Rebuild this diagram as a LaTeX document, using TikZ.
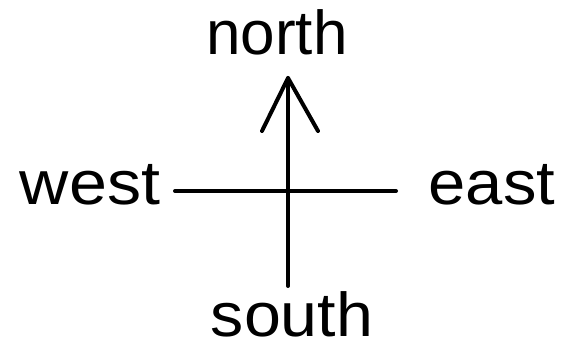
\documentclass[tikz,border=0pt]{standalone}
\usepackage{fontspec}
\setmainfont{Liberation Sans}
\begin{document}
\begin{tikzpicture}[x=1pt,y=-1pt,
  lbl/.style={font=\fontsize{62}{62}\selectfont, inner sep=0pt, anchor=base, text depth=0pt},
  stroke/.style={line width=4pt, line cap=round, line join=round}]
\useasboundingbox (0,0) rectangle (562,344);
\node[lbl] (north) at (277,55) {north};
\node[lbl] (west) at (90,205) {\scalebox{1.1}[1]{west}};
\node[lbl] (east) at (492,205) {\scalebox{1.08}[1]{east}};
\node[lbl] (south) at (292,337) {\scalebox{1.07}[1]{south}};
\coordinate (tip) at (288,78);
\coordinate (bot) at (288,286);
\coordinate (wl) at (175,191);
\coordinate (er) at (396,191);
\coordinate (bl) at (262,131);
\coordinate (br) at (318,131);
\draw[stroke] (bot) -- (tip);
\draw[stroke] (bl) -- (tip) -- (br);
\draw[stroke] (wl) -- (er);
\end{tikzpicture}
\end{document}
